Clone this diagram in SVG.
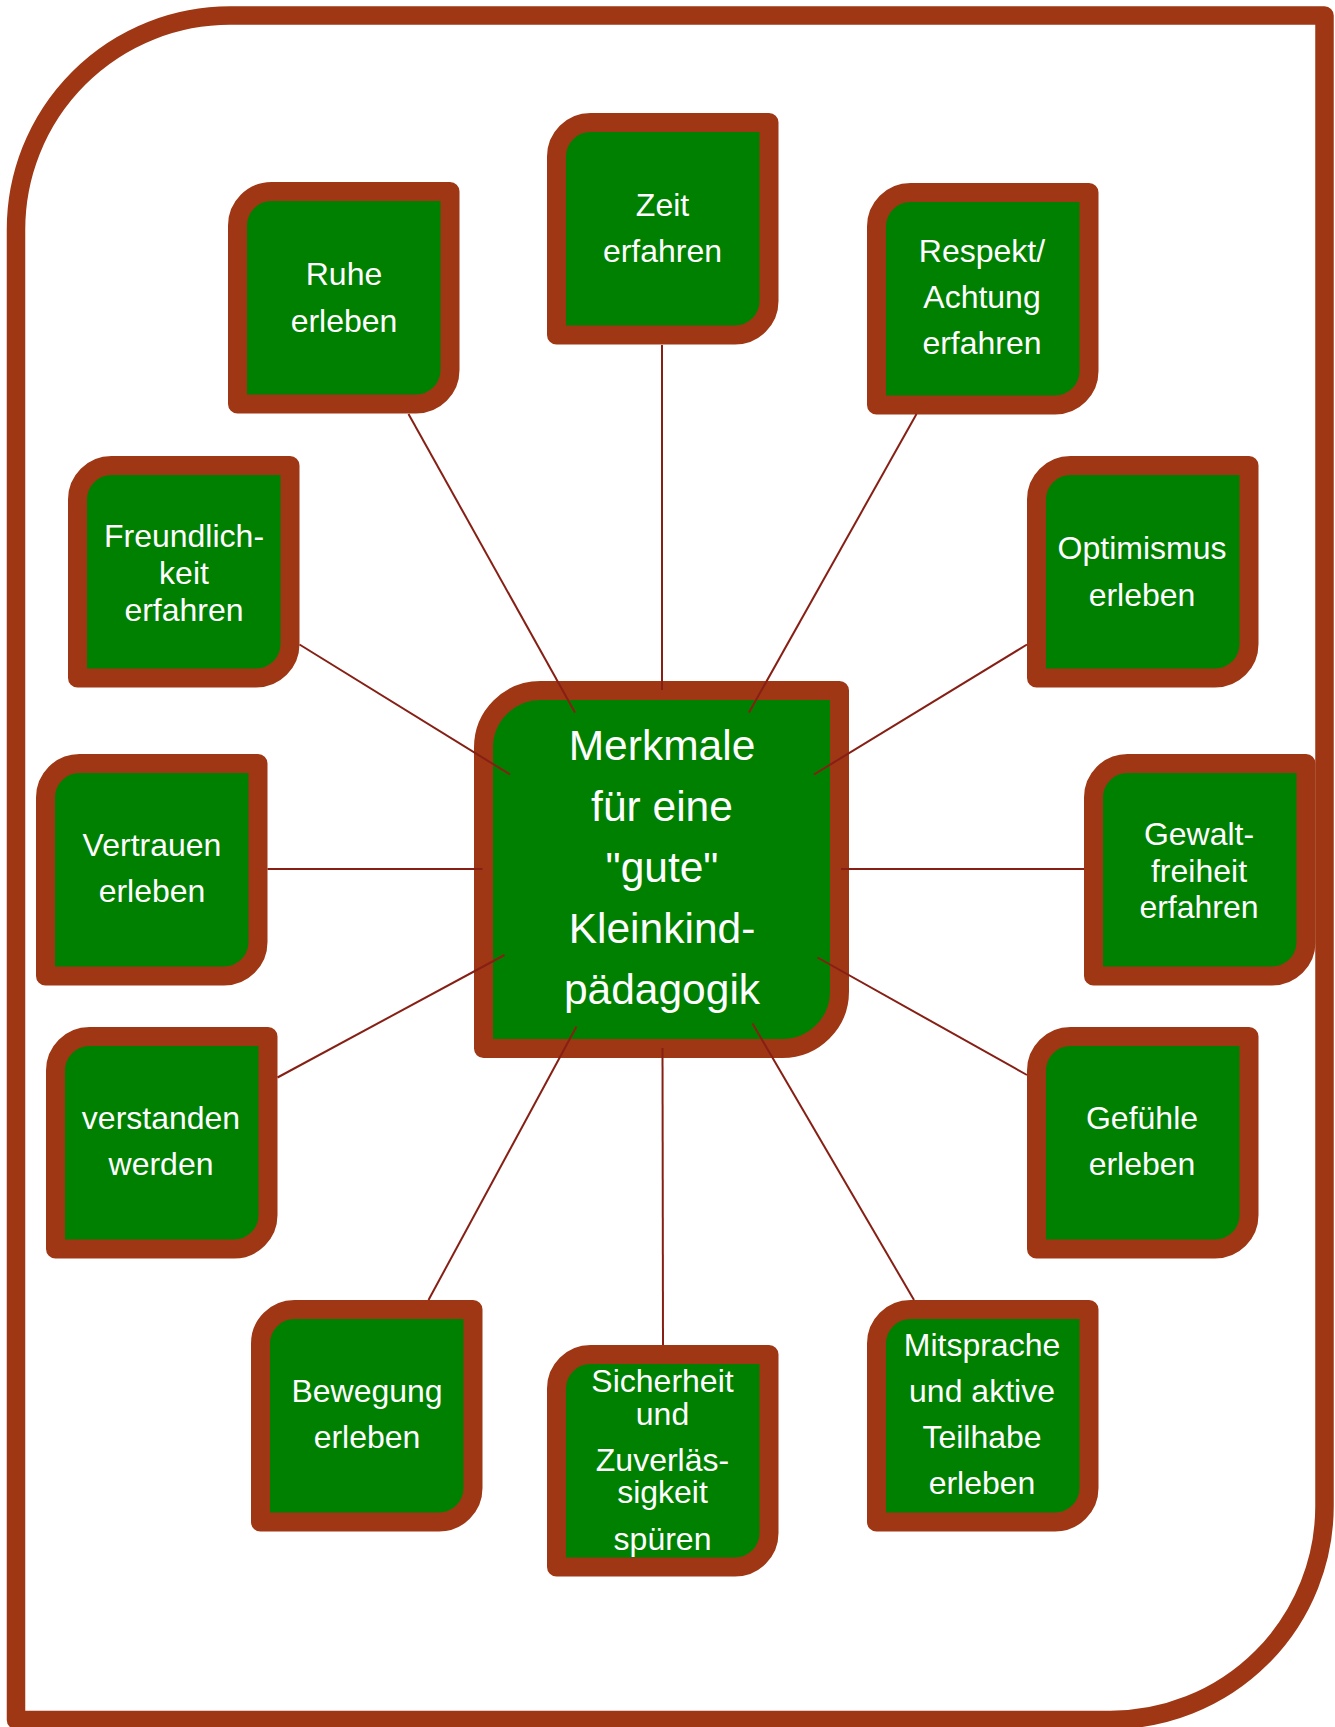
<svg xmlns="http://www.w3.org/2000/svg" width="1335" height="1727" viewBox="0 0 1335 1727">
  <style>
    .frame { fill: #ffffff; stroke: #9f3714; stroke-width: 18.5; stroke-linejoin: round; }
    .box { fill: #008000; stroke: #9f3714; stroke-width: 19; stroke-linejoin: round; }
    .lbl { font-family: "Liberation Sans", Arial, sans-serif; font-size: 32px; fill: #ffffff; text-anchor: middle; }
    .title { font-family: "Liberation Sans", Arial, sans-serif; font-size: 42.5px; fill: #ffffff; text-anchor: middle; }
    .link { stroke: #861f14; stroke-width: 2; fill: none; }
  </style>
  <defs>
    <!-- leaf shape: large rounded top-left and bottom-right corners (outer box 231.5 wide) -->
    <path id="leaf" d="M 9.5,43.5 A 34 34 0 0 1 43.5,9.5 H 222 V 188 A 34 34 0 0 1 188,222 H 9.5 Z"/>
  </defs>

  <rect width="1335" height="1727" fill="#ffffff"/>

  <!-- outer frame -->
  <path class="frame" d="M 230,15.5 H 1324.5 V 1506 A 214 214 0 0 1 1110.5,1720 H 16 V 229.5 A 214 214 0 0 1 230,15.5 Z"/>

  <!-- central node -->
  <g id="center">
    <path class="box" d="M 483.5,747.5 A 57 57 0 0 1 540.5,690.5 H 839.5 V 991.5 A 57 57 0 0 1 782.5,1048.5 H 483.5 Z"/>
    <text class="title" x="662" y="760">Merkmale</text>
    <text class="title" x="662" y="821">für eine</text>
    <text class="title" x="662" y="882">"gute"</text>
    <text class="title" x="662" y="943">Kleinkind-</text>
    <text class="title" x="662" y="1004">pädagogik</text>
  </g>

  <g id="zeit">
    <use href="#leaf" class="box" x="547" y="113"/>
    <text class="lbl" x="662.5" y="216">Zeit</text>
    <text class="lbl" x="662.5" y="262">erfahren</text>
  </g>

  <g id="ruhe">
    <use href="#leaf" class="box" x="228" y="182"/>
    <text class="lbl" x="344" y="285">Ruhe</text>
    <text class="lbl" x="344" y="332">erleben</text>
  </g>

  <g id="respekt">
    <use href="#leaf" class="box" x="867" y="183"/>
    <text class="lbl" x="982" y="262">Respekt/</text>
    <text class="lbl" x="982" y="308">Achtung</text>
    <text class="lbl" x="982" y="354">erfahren</text>
  </g>

  <g id="freundlichkeit">
    <use href="#leaf" class="box" x="68" y="456"/>
    <text class="lbl" x="184" y="547">Freundlich-</text>
    <text class="lbl" x="184" y="584">keit</text>
    <text class="lbl" x="184" y="620.5">erfahren</text>
  </g>

  <g id="optimismus">
    <use href="#leaf" class="box" x="1027" y="456"/>
    <text class="lbl" x="1142" y="559">Optimismus</text>
    <text class="lbl" x="1142" y="606">erleben</text>
  </g>

  <g id="vertrauen">
    <use href="#leaf" class="box" x="36" y="754"/>
    <text class="lbl" x="152" y="856">Vertrauen</text>
    <text class="lbl" x="152" y="902">erleben</text>
  </g>

  <g id="gewaltfreiheit">
    <use href="#leaf" class="box" x="1084" y="754"/>
    <text class="lbl" x="1199" y="844.5">Gewalt-</text>
    <text class="lbl" x="1199" y="881.5">freiheit</text>
    <text class="lbl" x="1199" y="917.5">erfahren</text>
  </g>

  <g id="verstanden">
    <use href="#leaf" class="box" x="46" y="1027"/>
    <text class="lbl" x="161" y="1129">verstanden</text>
    <text class="lbl" x="161" y="1175">werden</text>
  </g>

  <g id="gefuehle">
    <use href="#leaf" class="box" x="1027" y="1027"/>
    <text class="lbl" x="1142" y="1129">Gefühle</text>
    <text class="lbl" x="1142" y="1175">erleben</text>
  </g>

  <g id="bewegung">
    <use href="#leaf" class="box" x="251" y="1300"/>
    <text class="lbl" x="367" y="1402">Bewegung</text>
    <text class="lbl" x="367" y="1448">erleben</text>
  </g>

  <g id="sicherheit">
    <use href="#leaf" class="box" x="547" y="1345"/>
    <text class="lbl" x="662.5" y="1392">Sicherheit</text>
    <text class="lbl" x="662.5" y="1425">und</text>
    <text class="lbl" x="662.5" y="1471">Zuverläs-</text>
    <text class="lbl" x="662.5" y="1503">sigkeit</text>
    <text class="lbl" x="662.5" y="1550">spüren</text>
  </g>

  <g id="mitsprache">
    <use href="#leaf" class="box" x="867" y="1300"/>
    <text class="lbl" x="982" y="1356">Mitsprache</text>
    <text class="lbl" x="982" y="1402">und aktive</text>
    <text class="lbl" x="982" y="1448">Teilhabe</text>
    <text class="lbl" x="982" y="1494">erleben</text>
  </g>

  <!-- spokes from the central node to each leaf -->
  <g id="connectors" class="link">
    <line x1="408.5" y1="414" x2="575" y2="712.5"/>
    <line x1="662" y1="345" x2="662" y2="690"/>
    <line x1="916.5" y1="414" x2="749" y2="712.5"/>
    <line x1="299.5" y1="644.5" x2="510" y2="774.5"/>
    <line x1="1027" y1="644.5" x2="814" y2="774.5"/>
    <line x1="267.5" y1="869" x2="482.5" y2="869"/>
    <line x1="841" y1="869" x2="1084" y2="869"/>
    <line x1="277.5" y1="1077.5" x2="504.5" y2="955"/>
    <line x1="1027" y1="1075" x2="817.5" y2="957.5"/>
    <line x1="428.5" y1="1300" x2="576.5" y2="1026.5"/>
    <line x1="662.5" y1="1048" x2="663" y2="1345"/>
    <line x1="752.5" y1="1023.5" x2="914" y2="1300"/>
  </g>
</svg>
